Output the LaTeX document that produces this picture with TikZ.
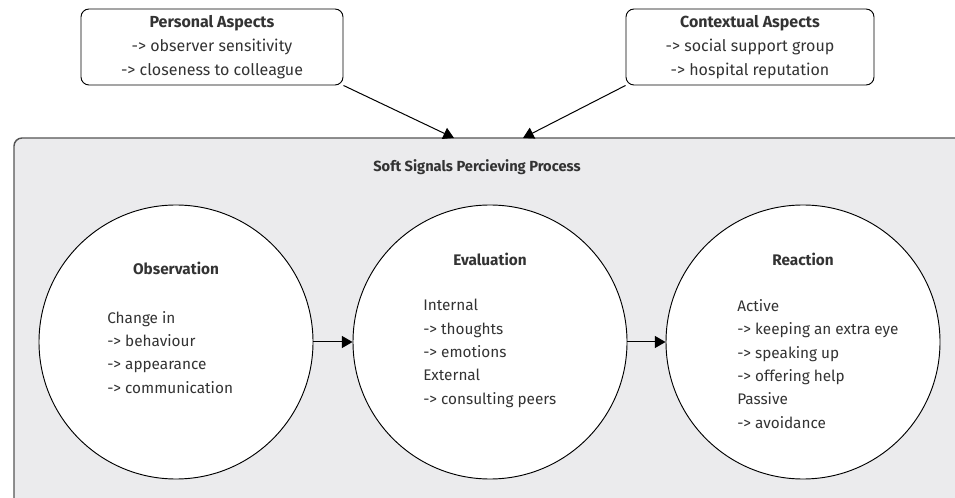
\documentclass[tikz,border=0pt]{standalone}
\usepackage{fontspec}
\setmainfont{Fira Sans}
\usetikzlibrary{arrows.meta}
\definecolor{txt}{HTML}{333333}
\definecolor{bgfill}{HTML}{EBEBED}
\definecolor{bgline}{HTML}{555555}
\begin{document}
\begin{tikzpicture}[x=0.75pt,y=-0.75pt,
  every node/.style={text=txt, font=\fontsize{11.5}{17.5}\selectfont},
  aspectbox/.style={draw=black, line width=0.7pt, fill=white, rounded corners=6pt,
    minimum height=57pt, align=center, inner sep=0pt,
    font=\fontsize{12}{18}\selectfont},
  stage/.style={draw=black, line width=0.7pt, fill=white, circle, minimum size=205.5pt, inner sep=0pt},
  stagetitle/.style={font=\fontsize{11.5}{17.5}\selectfont\bfseries, anchor=base},
  stagebody/.style={align=left, anchor=base west, inner sep=0pt},
  conn/.style={draw=black, line width=0.75pt, -{Triangle[length=8pt,width=9pt]}}]
\useasboundingbox (0,0) rectangle (955,498);
\begin{scope}
\clip (0,0) rectangle (955,498);
\draw[draw=bgline, fill=bgfill, line width=1.1pt, rounded corners=6pt] (14,138) rectangle (990,540);
\end{scope}
\coordinate (pin1) at (454,138);
\coordinate (pin2) at (523,138);
\node[aspectbox, minimum width=196.5pt] (pa) at (212,47)
  {\textbf{Personal Aspects}\\-> observer sensitivity\\-> closeness to colleague};
\node[aspectbox, minimum width=186pt] (ca) at (750,47)
  {\textbf{Contextual Aspects}\\-> social support group\\-> hospital reputation};
\draw[conn] (pa.south east) -- (pin1);
\draw[conn] (ca.south west) -- (pin2);
\node[anchor=base, font=\fontsize{11}{17.5}\selectfont\bfseries] (title) at (477,172) {Soft Signals Percieving Process};
\node[stage] (obs) at (176,342) {};
\node[stage] (eval) at (490,342) {};
\node[stage] (react) at (803,342) {};
\draw[conn] (obs.east) -- (eval.west);
\draw[conn] (eval.east) -- (react.west);
\node[stagetitle] (obst) at (176,275) {Observation};
\node[stagetitle] (evalt) at (490,266) {Evaluation};
\node[stagetitle] (reactt) at (803,266) {Reaction};
\node[stagebody] (obsb) at (107,393) {Change in\\-> behaviour\\-> appearance\\-> communication};
\node[stagebody] (evalb) at (423,404) {Internal\\-> thoughts\\-> emotions\\External\\-> consulting peers};
\node[stagebody] (reactb) at (737,428) {Active\\-> keeping an extra eye\\-> speaking up\\-> offering help\\Passive\\-> avoidance};
\end{tikzpicture}
\end{document}
